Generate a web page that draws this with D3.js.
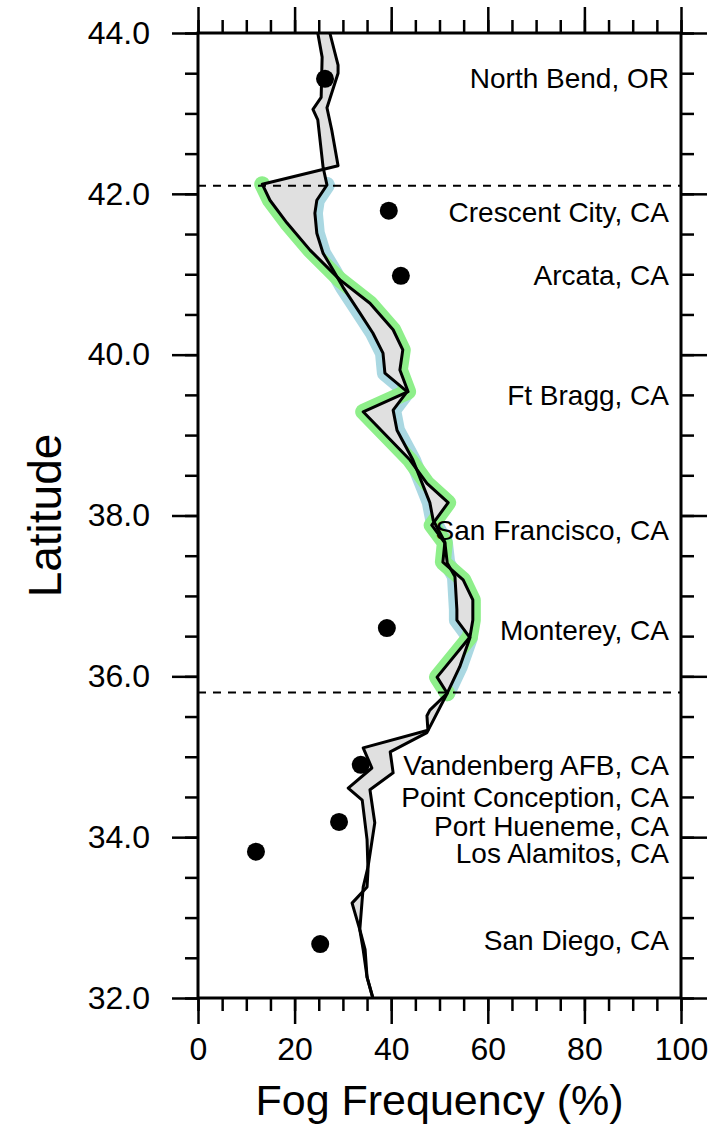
<!DOCTYPE html>
<html lang="en">
<head>
  <meta charset="UTF-8">
  <title>Fog Frequency vs Latitude</title>
  <style>
    body { margin: 0; background: #fff; }
    svg text { font-family: "Liberation Sans", Arial, Helvetica, sans-serif; fill: #000; }
  </style>
</head>
<body>
  <svg id="chart" width="718" height="1132"></svg>
  <script src="https://cdn.jsdelivr.net/npm/d3@7"></script>
  <script>
    // series A (green band between the dashed lines)
    var seriesALat = [44.00, 43.60, 43.50, 43.07, 42.79, 42.35, 42.12, 41.92, 41.64, 41.30, 40.93, 40.64,
      40.31, 40.06, 39.81, 39.54, 39.29, 38.69, 38.40, 38.16, 37.88, 37.66, 37.42, 37.20, 36.95, 36.70,
      36.49, 35.99, 35.79, 35.58, 35.51, 35.33, 35.11, 34.86, 34.61, 34.46, 33.97, 33.59, 33.38, 33.18,
      32.85, 32.60, 32.26, 32.00];
    var seriesAVal = [27.3, 29.0, 29.0, 26.7, 27.7, 29.0, 13.3, 14.9, 18.4, 23.2, 29.4, 35.6,
      40.4, 42.4, 41.8, 43.5, 34.2, 43.9, 47.4, 51.8, 48.4, 51.1, 50.7, 54.9, 56.9, 56.9,
      56.3, 49.5, 51.6, 48.0, 47.4, 47.6, 34.2, 36.0, 31.1, 34.0, 35.0, 35.2, 35.0, 31.9,
      33.5, 34.2, 35.0, 36.2];

    // series B (blue band between the dashed lines)
    var seriesBLat = [44.00, 43.70, 43.20, 43.05, 42.92, 42.33, 42.11, 41.92, 41.76, 41.51, 41.26, 41.05,
      40.84, 40.52, 40.27, 40.02, 39.77, 39.54, 39.31, 39.06, 38.69, 38.16, 37.94, 37.67, 37.41, 37.24,
      36.83, 36.70, 36.48, 36.12, 35.79, 35.30, 35.06, 34.80, 34.59, 34.18, 33.63, 33.38, 32.85, 32.60,
      32.26, 32.00];
    var seriesBVal = [24.8, 25.7, 25.5, 23.8, 24.8, 25.9, 26.7, 24.6, 24.2, 24.6, 25.9, 28.0,
      30.0, 33.5, 36.2, 38.3, 38.7, 43.3, 40.4, 41.2, 44.5, 48.0, 48.7, 51.1, 51.6, 53.2,
      53.6, 53.6, 56.3, 54.2, 51.6, 47.4, 39.8, 40.4, 35.6, 36.6, 35.2, 34.2, 33.5, 34.6,
      35.0, 36.2];

    // observed station values
    var obsLat = [43.43, 41.79, 40.98, 36.60, 34.90, 34.19, 33.82, 32.67];
    var obsVal = [26.3, 39.5, 42.0, 39.1, 33.7, 29.2, 12.0, 25.3];

    var stationNames = ["North Bend, OR", "Crescent City, CA", "Arcata, CA", "Ft Bragg, CA",
      "San Francisco, CA", "Monterey, CA", "Vandenberg AFB, CA", "Point Conception, CA",
      "Port Hueneme, CA", "Los Alamitos, CA", "San Diego, CA"];
    var stationLat = [43.44, 41.77, 40.99, 39.50, 37.82, 36.58, 34.90, 34.50, 34.14, 33.80, 32.72];

    var dashLat = [42.1, 35.8];

    var xTicks = [0, 20, 40, 60, 80, 100];
    var yTicks = [32, 34, 36, 38, 40, 42, 44];

    var margin = { top: 33, right: 37, bottom: 134, left: 198 },
        width = 718 - margin.left - margin.right,
        height = 1132 - margin.top - margin.bottom;

    var svg = d3.select("#chart");
    var g = svg.append("g").attr("transform", "translate(" + margin.left + "," + margin.top + ")");

    var x = d3.scaleLinear().domain([0, 100]).range([0, width]);
    var y = d3.scaleLinear().domain([32, 44]).range([height, 0]);

    function pts(lats, vals) {
      return lats.map(function(d, i) { return { lat: d, v: vals[i] }; });
    }
    var A = pts(seriesALat, seriesAVal), B = pts(seriesBLat, seriesBVal);

    var line = d3.line().x(function(d) { return x(d.v); }).y(function(d) { return y(d.lat); });

    function inBand(d) { return d.lat <= 42.13 && d.lat >= 35.78; }

    // halos
    g.append("path").datum(B.filter(inBand))
      .attr("fill", "none").attr("stroke", "#aad8e2").attr("stroke-width", 16)
      .attr("stroke-linejoin", "round").attr("stroke-linecap", "round").attr("d", line);
    g.append("path").datum(A.filter(inBand))
      .attr("fill", "none").attr("stroke", "#8eef8a").attr("stroke-width", 16)
      .attr("stroke-linejoin", "round").attr("stroke-linecap", "round").attr("d", line);

    // fill between the two series
    g.append("path").datum(A.concat(B.slice().reverse()))
      .attr("fill", "#e0e0e0").attr("stroke", "none").attr("d", line);

    g.append("path").datum(A).attr("fill", "none").attr("stroke", "#000")
      .attr("stroke-width", 3).attr("stroke-linejoin", "round").attr("d", line);
    g.append("path").datum(B).attr("fill", "none").attr("stroke", "#000")
      .attr("stroke-width", 3).attr("stroke-linejoin", "round").attr("d", line);

    // dashed separators
    g.selectAll(".dash").data(dashLat).enter().append("line")
      .attr("x1", 0).attr("x2", width)
      .attr("y1", function(d) { return y(d); }).attr("y2", function(d) { return y(d); })
      .attr("stroke", "#000").attr("stroke-width", 2).attr("stroke-dasharray", "8,7");

    // observation dots
    g.selectAll(".obs").data(obsLat).enter().append("circle")
      .attr("cx", function(d, i) { return x(obsVal[i]); })
      .attr("cy", function(d) { return y(d); })
      .attr("r", 9).attr("fill", "#000");

    // station labels
    g.selectAll(".stn").data(stationNames).enter().append("text")
      .attr("x", width - 12)
      .attr("y", function(d, i) { return y(stationLat[i]); })
      .attr("dy", "0.36em")
      .attr("text-anchor", "end")
      .style("font-size", "28px")
      .text(function(d) { return d; });

    // axes: minor then major ticks
    var xMinor = d3.range(0, 101, 5), yMinor = d3.range(32, 44.01, 0.5);

    function styleAxis(sel) {
      sel.select(".domain").remove();
      sel.selectAll("line").attr("stroke", "#000").attr("stroke-width", 2.5);
    }

    g.append("g").attr("transform", "translate(0," + height + ")")
      .call(d3.axisBottom(x).tickValues(xMinor).tickSize(13).tickFormat(""))
      .call(styleAxis);
    g.append("g").attr("transform", "translate(0," + height + ")")
      .call(d3.axisBottom(x).tickValues(xTicks).tickSize(26).tickPadding(13).tickFormat(d3.format("d")))
      .call(styleAxis)
      .selectAll("text").style("font-size", "32px").attr("fill", "#000");

    g.append("g")
      .call(d3.axisTop(x).tickValues(xMinor).tickSize(13).tickFormat(""))
      .call(styleAxis);
    g.append("g")
      .call(d3.axisTop(x).tickValues(xTicks).tickSize(26).tickFormat(""))
      .call(styleAxis);

    g.append("g")
      .call(d3.axisLeft(y).tickValues(yMinor).tickSize(13).tickFormat(""))
      .call(styleAxis);
    g.append("g")
      .call(d3.axisLeft(y).tickValues(yTicks).tickSize(26).tickPadding(22).tickFormat(d3.format(".1f")))
      .call(styleAxis)
      .selectAll("text").style("font-size", "32px").attr("fill", "#000");

    g.append("g").attr("transform", "translate(" + width + ",0)")
      .call(d3.axisRight(y).tickValues(yMinor).tickSize(13).tickFormat(""))
      .call(styleAxis);
    g.append("g").attr("transform", "translate(" + width + ",0)")
      .call(d3.axisRight(y).tickValues(yTicks).tickSize(26).tickFormat(""))
      .call(styleAxis);

    // frame
    g.append("rect").attr("width", width).attr("height", height)
      .attr("fill", "none").attr("stroke", "#000").attr("stroke-width", 3);

    // titles
    svg.append("text")
      .attr("x", margin.left + width / 2).attr("y", 1115)
      .attr("text-anchor", "middle").style("font-size", "43px")
      .text("Fog Frequency (%)");
    svg.append("text")
      .attr("transform", "translate(61," + (margin.top + height / 2) + ") rotate(-90)")
      .attr("text-anchor", "middle").style("font-size", "46px")
      .text("Latitude");
  </script>
</body>
</html>
